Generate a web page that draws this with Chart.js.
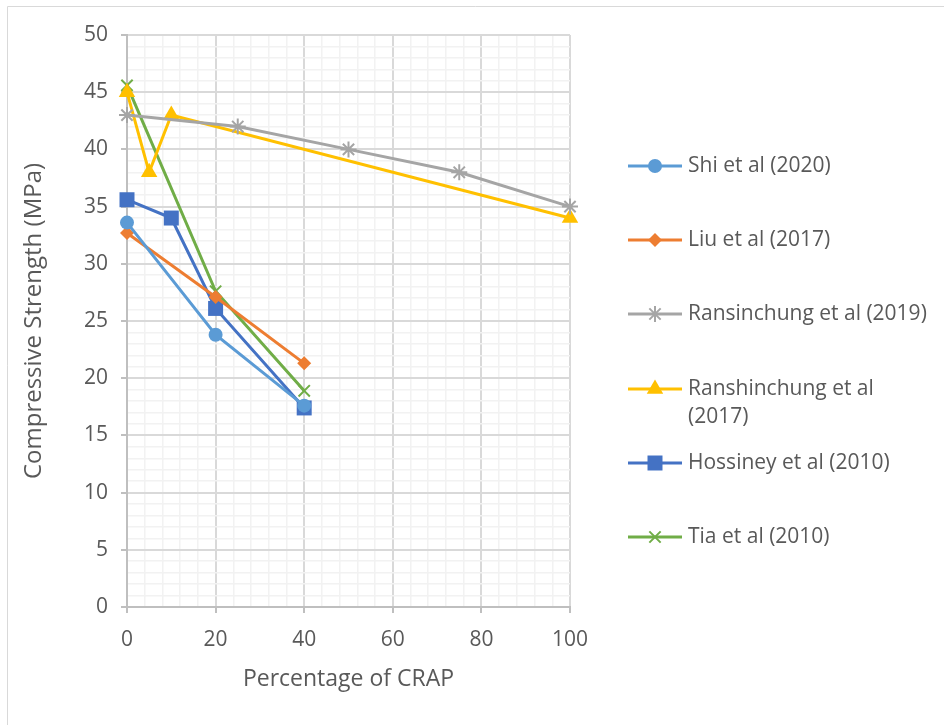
<!DOCTYPE html>
<html>
<head>
<meta charset="utf-8">
<script src="https://cdn.jsdelivr.net/npm/chart.js@4.4.0/dist/chart.umd.min.js"></script>
<style>
	html, body { margin: 0; padding: 0; background: #fff; }
	#wrap { position: relative; width: 944px; height: 725px; }
</style>
</head>
<body>
<div id="wrap"><canvas id="strengthChart" width="944" height="725"></canvas></div>
<script>
// data
const shiX = [0, 20, 40];
const shiY = [33.6, 23.8, 17.6];
const liuX = [0, 20, 40];
const liuY = [32.7, 27.1, 21.3];
const rans2019X = [0, 25, 50, 75, 100];
const rans2019Y = [43, 42, 40, 38, 35];
const rans2017X = [0, 5, 10, 100];
const rans2017Y = [45, 38, 43, 34];
const hossX = [0, 10, 20, 40];
const hossY = [35.6, 34, 26.1, 17.4];
const tiaX = [0, 20, 40];
const tiaY = [45.6, 27.6, 18.9];

const seriesNames = ["Shi et al (2020)", "Liu et al (2017)", "Ransinchung et al (2019)",
	["Ranshinchung et al", "(2017)"], "Hossiney et al (2010)", "Tia et al (2010)"];

const xTicks = [0, 20, 40, 60, 80, 100];
const yTicks = [0, 5, 10, 15, 20, 25, 30, 35, 40, 45, 50];

const FONT = "'Open Sans', 'Noto Sans', sans-serif";
const TEXT = "#595959";

function pts(xs, ys) {
	return xs.map((x, i) => ({ x: x, y: ys[i] }));
}

function makeSet(name, xs, ys, color, style, radius) {
	return {
		label: Array.isArray(name) ? name.join(" ") : name,
		legendText: name,
		data: pts(xs, ys),
		borderColor: color,
		backgroundColor: color,
		pointBackgroundColor: color,
		pointBorderColor: color,
		pointStyle: style,
		pointRadius: radius,
		pointBorderWidth: (style === "star" || style === "crossRot") ? 2 : 0,
		borderWidth: 3,
		tension: 0,
		fill: false,
		clip: false
	};
}

const datasets = [
	makeSet(seriesNames[0], shiX, shiY, "#5B9BD5", "circle", 7),
	makeSet(seriesNames[1], liuX, liuY, "#ED7D31", "rectRot", 7),
	makeSet(seriesNames[2], rans2019X, rans2019Y, "#A5A5A5", "star", 8),
	makeSet(seriesNames[3], rans2017X, rans2017Y, "#FFC000", "triangle", 9.5),
	makeSet(seriesNames[4], hossX, hossY, "#4472C4", "rect", 10.6),
	makeSet(seriesNames[5], tiaX, tiaY, "#70AD47", "crossRot", 8)
];

// legend rows (pixel layout)
const legendRows = [166, 240, 314, 389, 463, 537];

const sideLegend = {
	id: "sideLegend",
	afterDraw(chart) {
		const ctx = chart.ctx;
		ctx.save();
		chart.data.datasets.forEach((ds, i) => {
			const y = legendRows[i];
			ctx.strokeStyle = ds.borderColor;
			ctx.lineWidth = 3;
			ctx.beginPath();
			ctx.moveTo(628, y);
			ctx.lineTo(682, y);
			ctx.stroke();
			ctx.fillStyle = ds.pointBackgroundColor;
			ctx.strokeStyle = ds.pointBorderColor;
			ctx.lineWidth = ds.pointBorderWidth || 1;
			Chart.helpers.drawPoint(ctx, {
				pointStyle: ds.pointStyle,
				rotation: 0,
				radius: ds.pointRadius,
				borderWidth: ds.pointBorderWidth
			}, 655, y);
			ctx.fillStyle = TEXT;
			ctx.font = "21px " + FONT;
			ctx.textBaseline = "middle";
			ctx.textAlign = "left";
			const lines = Array.isArray(ds.legendText) ? ds.legendText : [ds.legendText];
			lines.forEach((t, k) => ctx.fillText(t, 688, y + k * 28));
		});
		// outer frame
		ctx.strokeStyle = "#d9d9d9";
		ctx.lineWidth = 1;
		ctx.beginPath();
		ctx.moveTo(7.5, 725);
		ctx.lineTo(7.5, 6.5);
		ctx.lineTo(944, 6.5);
		ctx.stroke();
		ctx.restore();
	}
};

const ctx = document.getElementById("strengthChart").getContext("2d");
new Chart(ctx, {
	type: "line",
	data: { datasets: datasets },
	options: {
		responsive: false,
		animation: false,
		layout: { padding: { left: 20, top: 35, right: 374, bottom: 0 } },
		scales: {
			x: {
				type: "linear",
				min: 0,
				max: 100,
				afterFit: s => { s.height = 118; },
				afterBuildTicks: s => {
					s.ticks = [];
					for (let v = 0; v <= 100; v += 4) s.ticks.push({ value: v });
				},
				ticks: {
					autoSkip: false,
					maxRotation: 0,
					padding: 14,
					color: TEXT,
					font: { family: FONT, size: 21 },
					callback: v => xTicks.includes(v) ? String(v) : ""
				},
				grid: {
					color: c => c.tick && c.tick.value % 20 === 0 ? "#d9d9d9" : "#f2f2f2",
					lineWidth: c => c.tick && c.tick.value % 20 === 0 ? 2 : 1.5,
					tickColor: c => c.tick && c.tick.value % 20 === 0 ? "#bfbfbf" : "rgba(0,0,0,0)",
					tickLength: 6
				},
				border: { color: "#bfbfbf", width: 2 },
				title: {
					display: true,
					text: "Percentage of CRAP",
					color: TEXT,
					font: { family: FONT, size: 23 },
					padding: { top: 0, bottom: 32 }
				}
			},
			y: {
				type: "linear",
				min: 0,
				max: 50,
				afterFit: s => { s.width = 107; },
				afterBuildTicks: s => {
					s.ticks = [];
					for (let v = 0; v <= 50; v += 1) s.ticks.push({ value: v });
				},
				ticks: {
					autoSkip: false,
					padding: 13,
					color: TEXT,
					font: { family: FONT, size: 21 },
					callback: v => yTicks.includes(v) ? String(v) : ""
				},
				grid: {
					color: c => c.tick && c.tick.value % 5 === 0 ? "#d9d9d9" : "#f2f2f2",
					lineWidth: c => c.tick && c.tick.value % 5 === 0 ? 2 : 1.5,
					tickColor: c => c.tick && c.tick.value % 5 === 0 ? "#bfbfbf" : "rgba(0,0,0,0)",
					tickLength: 6
				},
				border: { color: "#bfbfbf", width: 2 },
				title: {
					display: true,
					text: "Compressive Strength (MPa)",
					color: TEXT,
					font: { family: FONT, size: 24 },
					padding: { top: 0, bottom: 0 }
				}
			}
		},
		plugins: {
			legend: { display: false },
			tooltip: { enabled: false }
		}
	},
	plugins: [sideLegend]
});
</script>
</body>
</html>
